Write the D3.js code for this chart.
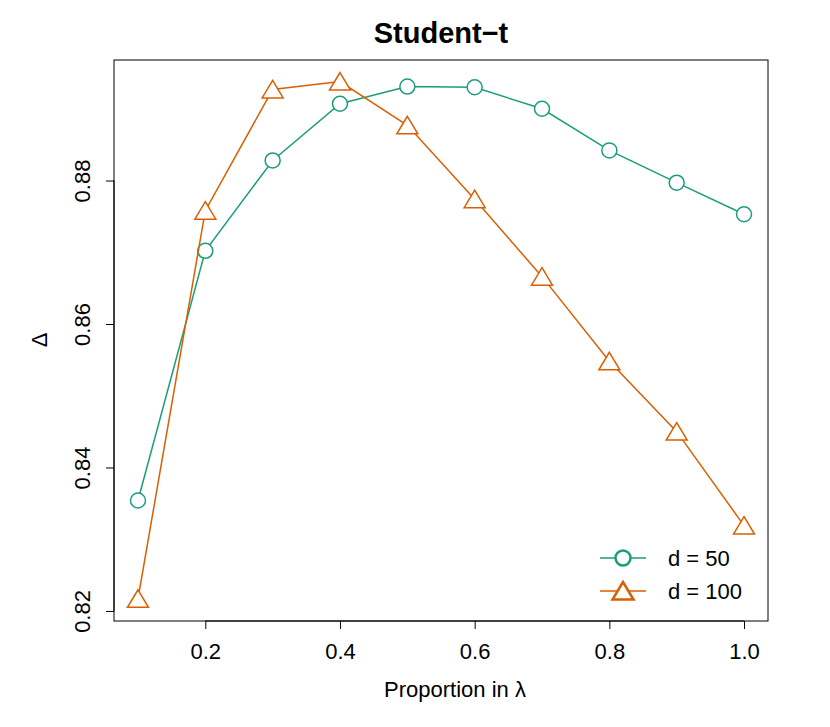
<!DOCTYPE html><html><head><script src="https://cdn.jsdelivr.net/npm/d3@7"></script>
<style>body{margin:0;background:#fff}text{font-family:"Liberation Sans",Arial,sans-serif}</style></head><body>
<svg id="c" width="830" height="727"></svg>
<script>
const lambda=[0.1,0.2,0.3,0.4,0.5,0.6,0.7,0.8,0.9,1.0];
const d50=[0.8354,0.8702,0.8828,0.8907,0.8931,0.8930,0.8900,0.8842,0.8797,0.8753];
const d100=[0.8217,0.8758,0.8927,0.8938,0.8877,0.8774,0.8666,0.8548,0.8450,0.8319];
const xTicks=[0.2,0.4,0.6,0.8,1.0];
const yTicks=[0.82,0.84,0.86,0.88];
const svg=d3.select("#c");
const L=114,R=768,T=60,B=621;
const x=d3.scaleLinear().domain([0.0644,1.0356]).range([L,R]);
const y=d3.scaleLinear().domain([0.8186,0.8968]).range([B,T]);
svg.append("rect").attr("x",L).attr("y",T).attr("width",R-L).attr("height",B-T).attr("fill","none").attr("stroke","#000");
const xa=svg.append("g").attr("transform",`translate(0,${B})`).call(d3.axisBottom(x).tickValues(xTicks).tickFormat(d3.format(".1f")).tickSize(8).tickSizeOuter(0));
xa.select(".domain").attr("d",`M${x(0.2)},0H${x(1.0)}`);
xa.selectAll("text").style("font-size","22px").attr("y",22).attr("dy","0.71em");
const ya=svg.append("g").attr("transform",`translate(${L},0)`).call(d3.axisLeft(y).tickValues(yTicks).tickFormat(d3.format(".2f")).tickSize(8).tickSizeOuter(0));
ya.select(".domain").attr("d",`M0,${y(0.82)}V${y(0.88)}`);
ya.selectAll(".tick text").style("font-size","22px").attr("text-anchor","middle").attr("transform","translate(-32,0) rotate(-90)").attr("x",0).attr("y",0).attr("dy","0.35em");
svg.append("text").attr("x",441).attr("y",43).attr("text-anchor","middle").style("font-size","29px").attr("font-weight","bold").text("Student−t");
svg.append("text").attr("x",455).attr("y",697).attr("text-anchor","middle").style("font-size","22px").text("Proportion in λ");
svg.append("text").attr("transform","translate(47,340) rotate(-90)").attr("text-anchor","middle").style("font-size","22px").text("Δ");
const line=d3.line().x((d,i)=>x(lambda[i])).y(d=>y(d));
const c1="#1B9E77",c2="#D95F02";
function tri(cx,cy){const s=10;return `M${cx},${cy-s}L${cx+s*1.05},${cy+s*0.75}L${cx-s*1.05},${cy+s*0.75}Z`;}
svg.append("path").datum(d50).attr("d",line).attr("fill","none").attr("stroke",c1).attr("stroke-width",1.5);
svg.selectAll(".p1").data(d50).enter().append("circle").attr("cx",(d,i)=>x(lambda[i])).attr("cy",d=>y(d)).attr("r",7.5).attr("fill","#fff").attr("stroke",c1).attr("stroke-width",1.5);
svg.append("path").datum(d100).attr("d",line).attr("fill","none").attr("stroke",c2).attr("stroke-width",1.5);
svg.selectAll(".p2").data(d100).enter().append("path").attr("d",(d,i)=>tri(x(lambda[i]),y(d)+1)).attr("fill","#fff").attr("stroke",c2).attr("stroke-width",1.5);
svg.append("line").attr("x1",600).attr("x2",646).attr("y1",558).attr("y2",558).attr("stroke",c1).attr("stroke-width",1.5);
svg.append("circle").attr("cx",623).attr("cy",558).attr("r",7.5).attr("fill","#fff").attr("stroke",c1).attr("stroke-width",2.5);
svg.append("text").attr("x",668).attr("y",566).style("font-size","22px").text("d = 50");
svg.append("line").attr("x1",600).attr("x2",646).attr("y1",591).attr("y2",591).attr("stroke",c2).attr("stroke-width",1.5);
svg.append("path").attr("d",tri(623,592)).attr("fill","#fff").attr("stroke",c2).attr("stroke-width",2.5);
svg.append("text").attr("x",668).attr("y",599).style("font-size","22px").text("d = 100");
</script></body></html>
